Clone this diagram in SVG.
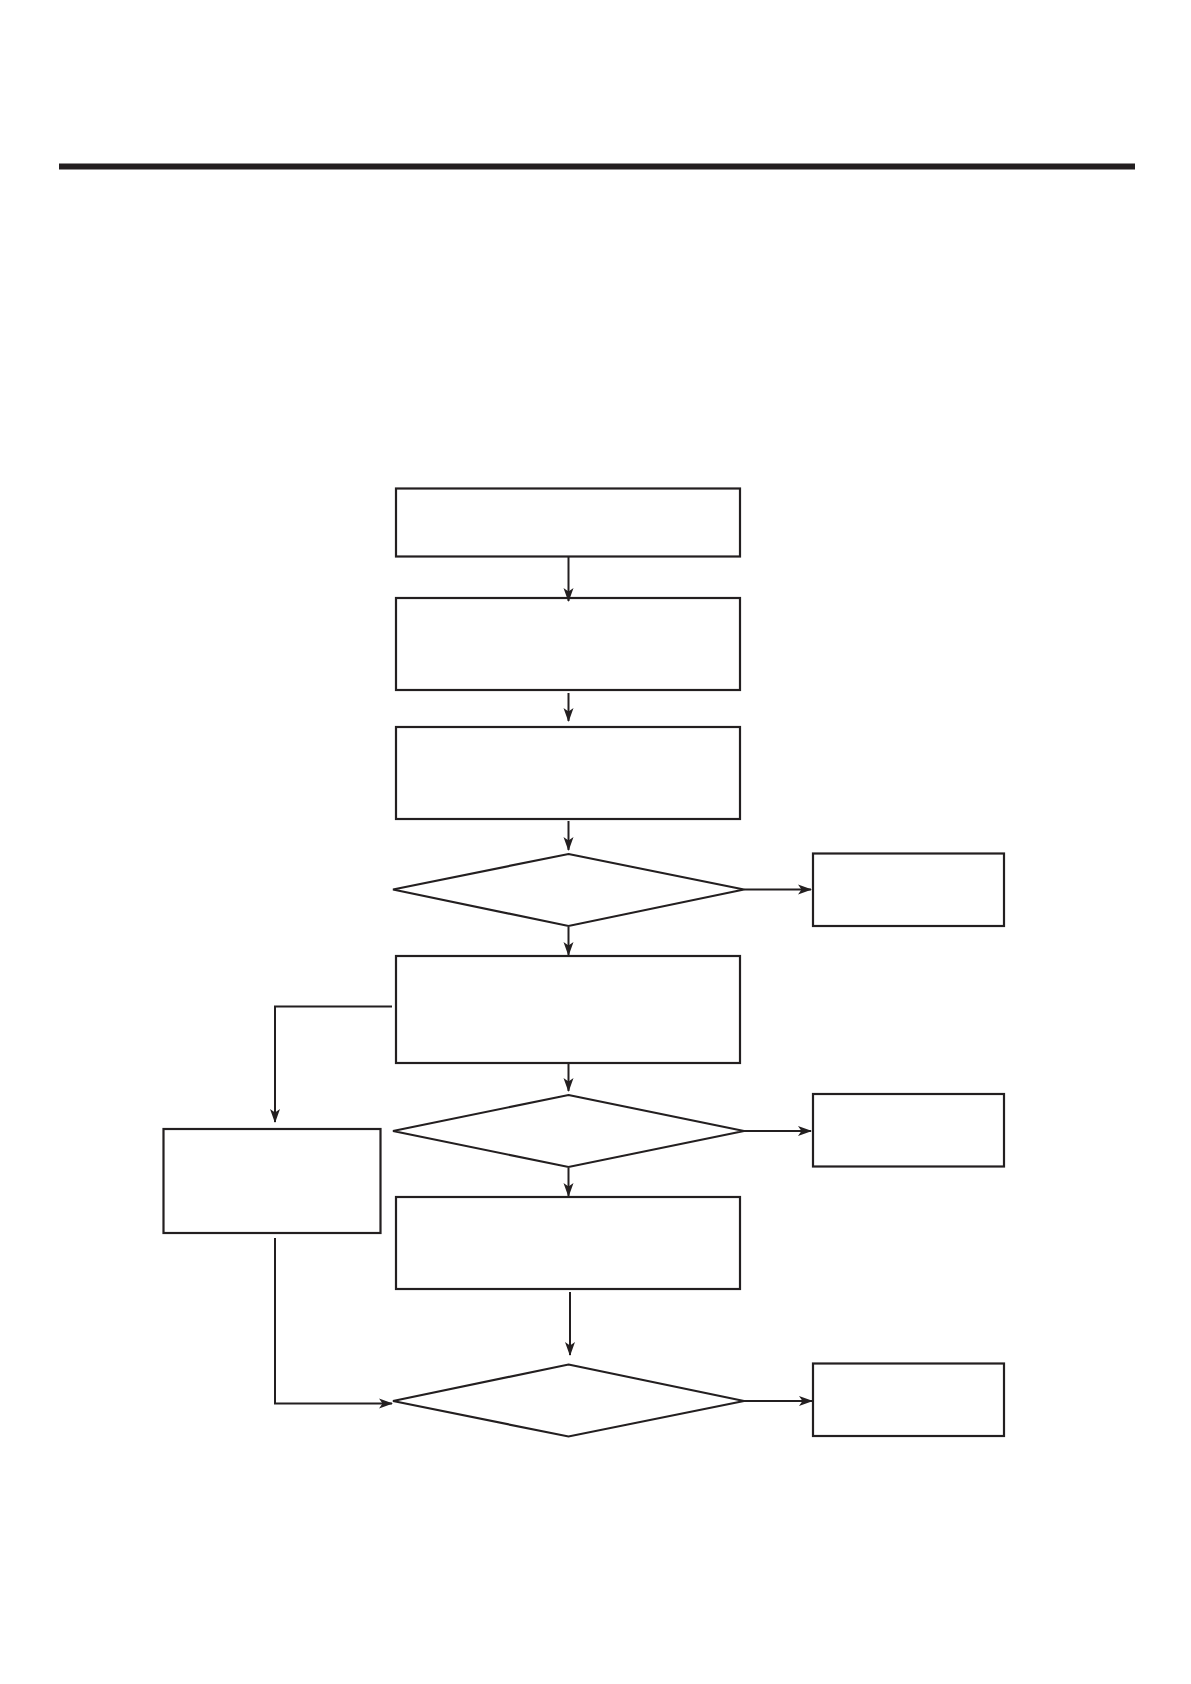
<svg xmlns="http://www.w3.org/2000/svg" width="1191" height="1684" viewBox="0 0 1191 1684">
<style>
.n{fill:#fff;stroke:#231f20;stroke-width:2.2}
.c{fill:none;stroke:#231f20;stroke-width:2}
</style>
<defs>
<marker id="ah" markerUnits="userSpaceOnUse" markerWidth="14" markerHeight="12" viewBox="0 0 14 12" refX="13" refY="6" orient="auto">
<path d="M0,1 L14,6 L0,11 L3.5,6 Z" fill="#231f20"/>
</marker>
</defs>
<rect x="0" y="0" width="1191" height="1684" fill="#fff"/>
<rect x="59" y="163.5" width="1076" height="6" fill="#231f20"/>
<g id="b1"><rect class="n" x="396" y="488.5" width="344" height="68"/></g>
<g id="b2"><rect class="n" x="396" y="598" width="344" height="92"/></g>
<g id="b3"><rect class="n" x="396" y="727" width="344" height="92"/></g>
<g id="d1"><polygon class="n" points="568.5,854 744,889.5 568.5,926 393,889.5"/></g>
<g id="r1"><rect class="n" x="813" y="853.5" width="191" height="72.5"/></g>
<g id="b4"><rect class="n" x="396" y="956" width="344" height="107"/></g>
<g id="d2"><polygon class="n" points="568.5,1095 744,1131 568.5,1167 393,1131"/></g>
<g id="r2"><rect class="n" x="813" y="1094" width="191" height="72.5"/></g>
<g id="l1"><rect class="n" x="163.5" y="1129" width="217" height="104"/></g>
<g id="b5"><rect class="n" x="396" y="1197" width="344" height="92"/></g>
<g id="d3"><polygon class="n" points="568.5,1364.5 744,1401 568.5,1436.5 393,1401"/></g>
<g id="r3"><rect class="n" x="813" y="1363.5" width="191" height="72.5"/></g>
<g id="connectors">
<line class="c" x1="568.5" y1="557" x2="568.5" y2="601" marker-end="url(#ah)" stroke-width="2.5"/>
<line class="c" x1="568.5" y1="693" x2="568.5" y2="721" marker-end="url(#ah)"/>
<line class="c" x1="568.5" y1="821" x2="568.5" y2="850" marker-end="url(#ah)"/>
<line class="c" x1="744" y1="889.5" x2="811" y2="889.5" marker-end="url(#ah)"/>
<line class="c" x1="568.5" y1="927" x2="568.5" y2="955" marker-end="url(#ah)"/>
<polyline class="c" points="392,1006.5 275,1006.5 275,1122" marker-end="url(#ah)" stroke-width="2.8"/>
<line class="c" x1="568.5" y1="1063" x2="568.5" y2="1091" marker-end="url(#ah)"/>
<line class="c" x1="744" y1="1131" x2="811" y2="1131" marker-end="url(#ah)" stroke-width="2.8"/>
<line class="c" x1="568.5" y1="1168" x2="568.5" y2="1196" marker-end="url(#ah)"/>
<line class="c" x1="570" y1="1292" x2="570" y2="1355" marker-end="url(#ah)" stroke-width="1.6"/>
<polyline class="c" points="275,1238 275,1403.5 392,1403.5" marker-end="url(#ah)"/>
<line class="c" x1="744" y1="1401" x2="812" y2="1401" marker-end="url(#ah)" stroke-width="3.5"/>
</g>
</svg>
